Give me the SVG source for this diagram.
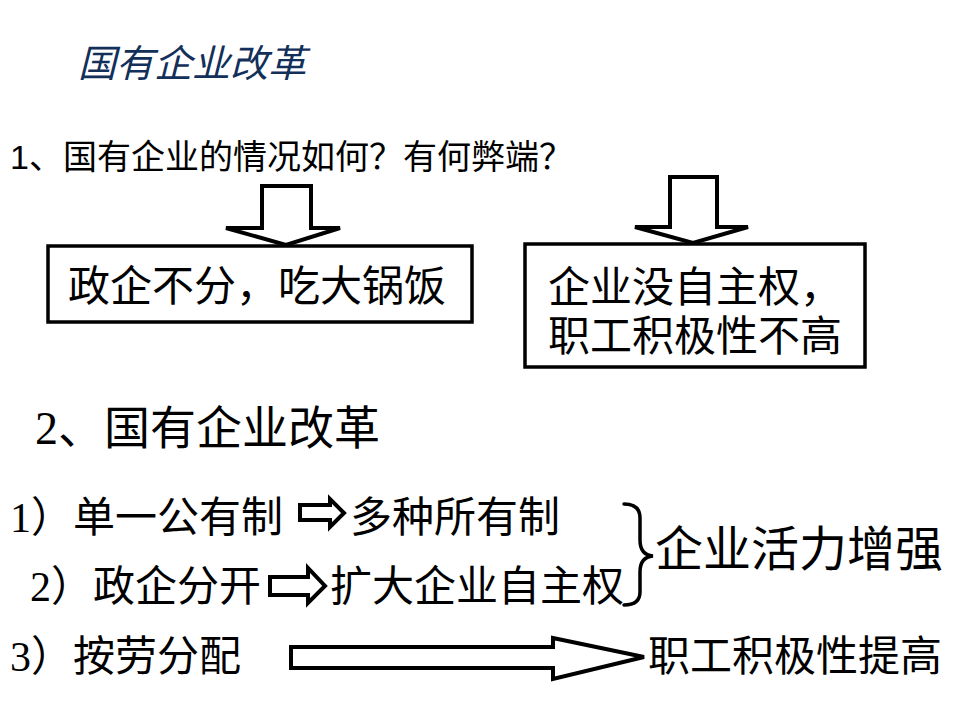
<svg xmlns="http://www.w3.org/2000/svg" width="960" height="720" viewBox="0 0 960 720">
<style>
.serif{font-family:"Liberation Serif","Noto Sans CJK SC",serif;fill:#000}
.sans{font-family:"Liberation Sans","Noto Sans CJK SC",sans-serif;fill:#000}
.box{fill:#fff;stroke:#000;stroke-width:3.5}
.arr{fill:#fff;stroke:#000;stroke-width:4;stroke-linejoin:miter}
.brace{fill:none;stroke:#000;stroke-width:3.5;stroke-linecap:round}
</style>
<rect width="960" height="720" fill="#fff"/>
<g id="title">
<text x="78" y="77" class="sans" font-size="38" font-style="italic" style="fill:#12305A">国有企业改革</text>
</g>
<g id="question">
<text x="10" y="169" class="sans" font-size="34">1、国有企业的情况如何？有何弊端？</text>
</g>
<g id="connectors">
<polygon class="arr" points="262,186 311,186 311,228 340,228 286,245 226,228 262,228"/>
<polygon class="arr" points="670,177 717,177 717,227 748,227 693,243 635,227 670,227"/>
<polygon class="arr" points="300,505 330,505 330,499 344,513 330,527 330,520 300,520"/>
<polygon class="arr" points="270,577 308,577 308,568 325,586 308,603 308,595 270,595"/>
<polygon class="arr" points="291,647 553,647 553,638 644,657 553,679 553,668 291,668"/>
<path class="brace" d="M624,504 Q640,504 640,518 L640,540 Q640,555 653,556 Q640,557 640,572 L640,592 Q640,605 624,605"/>
</g>
<g id="box-left">
<rect class="box" x="48" y="246" width="424" height="76"/>
<text x="68" y="301" class="serif" font-size="42">政企不分，吃大锅饭</text>
</g>
<g id="box-right">
<rect class="box" x="525" y="244" width="340" height="123"/>
<text x="548" y="302" class="serif" font-size="42">企业没自主权，</text>
<text x="548" y="351" class="serif" font-size="42">职工积极性不高</text>
</g>
<g id="heading2">
<text x="35" y="444" class="serif" font-size="46">2、国有企业改革</text>
</g>
<g id="row1">
<text x="10" y="532" class="serif" font-size="42">1）单一公有制</text>
<text x="350" y="532" class="serif" font-size="42">多种所有制</text>
</g>
<g id="row2">
<text x="30" y="601" class="serif" font-size="42">2）政企分开</text>
<text x="330" y="601" class="serif" font-size="42">扩大企业自主权</text>
</g>
<g id="result1">
<text x="655" y="566" class="serif" font-size="48">企业活力增强</text>
</g>
<g id="row3">
<text x="10" y="671" class="serif" font-size="42">3）按劳分配</text>
<text x="648" y="671" class="serif" font-size="42">职工积极性提高</text>
</g>
</svg>
